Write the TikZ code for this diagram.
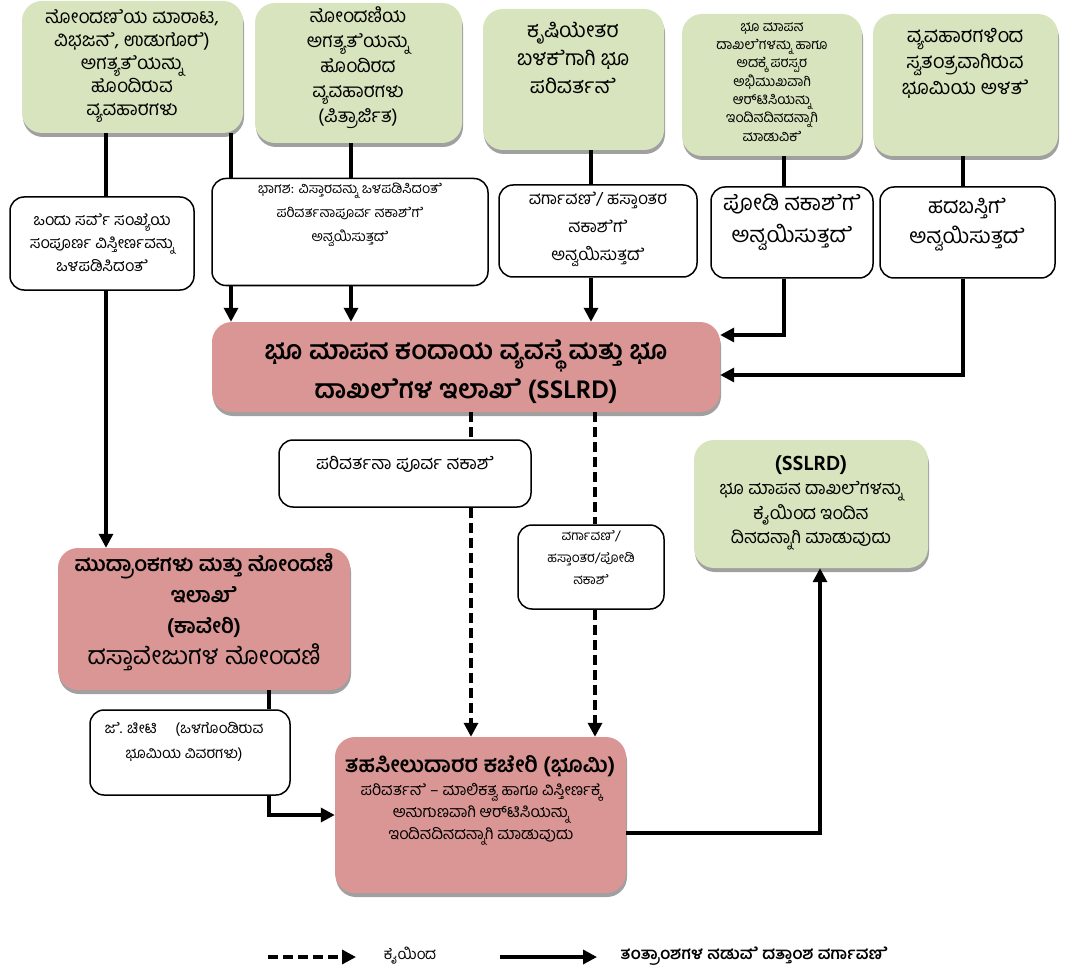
\documentclass[tikz,border=0pt]{standalone}
\usepackage{fontspec}
\setmainfont[Script=Kannada]{Hind Mysuru}
\usetikzlibrary{arrows.meta,shadows}
\definecolor{gfill}{RGB}{215,228,189}
\definecolor{rfill}{RGB}{217,150,148}
\definecolor{shad}{RGB}{160,160,160}
\begin{document}
\begin{tikzpicture}[x=1pt,y=-1pt,
  shd/.style={drop shadow={shadow xshift=1pt,shadow yshift=-4pt,fill=shad,opacity=1}},
  gbox/.style={fill=gfill,rounded corners=20pt,shd,inner sep=0pt},
  rbox/.style={fill=rfill,rounded corners=20pt,shd,inner sep=0pt},
  wbox/.style={draw=black,line width=1.5pt,fill=white,rounded corners=14pt,inner sep=0pt},
  txt/.style={align=center,inner sep=0pt},
  conn/.style={line width=3.3pt,black},
  arr/.style={conn,-{Triangle[length=14pt,width=14pt]}},
  dconn/.style={conn,dash pattern=on 10pt off 5pt},
  darr/.style={dconn,-{Triangle[length=14pt,width=14pt]}}
]
\path[use as bounding box] (0,0) rectangle (1073,976);

% coordinates for vertical / horizontal runs
\coordinate (x106) at (106,0);
\coordinate (x231) at (231,0);
\coordinate (x351) at (351,0);
\coordinate (x591) at (591,0);
\coordinate (x784) at (784,0);
\coordinate (x963) at (963,0);
\coordinate (x471) at (471,0);
\coordinate (x595) at (595,0);
\coordinate (x269) at (269,0);
\coordinate (x820) at (820,0);
\coordinate (y335) at (0,335);
\coordinate (y375) at (0,375);
\coordinate (y815) at (0,815);
\coordinate (y833) at (0,833);

% boxes
\node[gbox,minimum width=221pt,minimum height=132pt] (g1) at (132.5,67) {};
\node[gbox,minimum width=207pt,minimum height=140pt] (g2) at (358.5,73) {};
\node[gbox,minimum width=181pt,minimum height=141pt] (g3) at (573.5,79.5) {};
\node[gbox,minimum width=180pt,minimum height=142pt] (g4) at (772,85) {};
\node[gbox,minimum width=185pt,minimum height=142pt] (g5) at (965.5,85) {};

\node[wbox,minimum width=184pt,minimum height=93pt] (w1) at (102,243.5) {};
\node[wbox,minimum width=276pt,minimum height=107pt] (w2) at (350,232) {};
\node[wbox,minimum width=198pt,minimum height=92pt] (w3) at (598,231) {};
\node[wbox,minimum width=162pt,minimum height=91pt] (w4) at (792,232.5) {};
\node[wbox,minimum width=175pt,minimum height=91pt] (w5) at (967.5,232.5) {};

\node[rbox,minimum width=508pt,minimum height=90pt] (ss) at (466,367) {};

\node[wbox,minimum width=252pt,minimum height=67pt] (w6) at (405,473.5) {};
\node[wbox,minimum width=146pt,minimum height=84pt] (w7) at (591,567) {};
\node[gbox,minimum width=234pt,minimum height=128pt] (g6) at (811,504) {};
\node[rbox,minimum width=292pt,minimum height=142pt] (kv) at (204,619) {};
\node[wbox,minimum width=200pt,minimum height=85pt] (w8) at (190,752.5) {};
\node[rbox,minimum width=291pt,minimum height=156pt] (bh) at (480.5,815) {};

% texts
\node[txt,font=\fontsize{19}{23}\selectfont] (g1t) at (132,66) {ನೋಂದಣ^^^^200dೆಯ ಮಾರಾಟ,\\ವಿಭಜನ^^^^200dೆ, ಉಡುಗೊರ^^^^200dೆ)\\ಅಗತ್ಯತ^^^^200dೆಯನ್ನು\\ಹೊಂದಿರುವ\\ವ್ಯವಹಾರಗಳು};
\node[txt,font=\fontsize{19}{25}\selectfont] (g2t) at (358,68) {ನೋಂದಣಿಯ\\ಅಗತ್ಯತ^^^^200dೆಯನ್ನು\\ಹೊಂದಿರದ\\ವ್ಯವಹಾರಗಳು\\(ಪಿತ್ರಾರ್ಜಿತ)};
\node[txt,font=\fontsize{21}{28}\selectfont] (g3t) at (573,58) {ಕೃಷಿಯೇತರ\\ಬಳಕ^^^^200dೆಗಾಗಿ ಭೂ\\ಪರಿವರ್ತನ^^^^200dೆ};
\node[txt,font=\fontsize{14}{18.3}\selectfont] (g4t) at (772,82) {ಭೂ ಮಾಪನ\\ದಾಖಲ^^^^200dೆಗಳನ್ನು ಹಾಗೂ\\ಅದಕ್ಕ^^^^200dೆ ಪರಸ್ಪರ\\ಅಭಿಮುಖವಾಗಿ\\ಆರ್^^^^200cಟಿಸಿಯನ್ನು\\ಇಂದಿನದಿನದನ್ನಾಗಿ\\ಮಾಡುವಿಕ^^^^200dೆ};
\node[txt,font=\fontsize{20}{26}\selectfont] (g5t) at (965,63) {ವ್ಯವಹಾರಗಳಿಂದ\\ಸ್ವತಂತ್ರವಾಗಿರುವ\\ಭೂಮಿಯ ಅಳತ^^^^200dೆ};

\node[txt,font=\fontsize{16}{23}\selectfont] (w1t) at (102,243) {ಒಂದು ಸರ್ವ^^^^200dೆ ಸಂಖ್ಯ^^^^200dೆಯ\\ಸಂಪೂರ್ಣ ವಿಸ್ತೀರ್ಣವನ್ನು\\ಒಳಪಡಿಸಿದಂತ^^^^200dೆ};
\node[txt,font=\fontsize{14}{24}\selectfont] (w2t) at (350,215) {ಭಾಗಶ: ವಿಸ್ತಾರವನ್ನು ಒಳಪಡಿಸಿದಂತ^^^^200dೆ\\ಪರಿವರ್ತನಾಪೂರ್ವ ನಕಾಶ^^^^200dೆಗ^^^^200dೆ\\ಅನ್ವಯಿಸುತ್ತದ^^^^200dೆ};
\node[txt,font=\fontsize{17}{28}\selectfont] (w3t) at (598,229) {ವರ್ಗಾವಣ^^^^200dೆ/ ಹಸ್ತಾಂತರ\\ನಕಾಶ^^^^200dೆಗ^^^^200dೆ\\ಅನ್ವಯಿಸುತ್ತದ^^^^200dೆ};
\node[txt,font=\fontsize{22}{32}\selectfont] (w4t) at (792,222) {ಪೋಡಿ ನಕಾಶ^^^^200dೆಗ^^^^200dೆ\\ಅನ್ವಯಿಸುತ್ತದ^^^^200dೆ};
\node[txt,font=\fontsize{21}{30}\selectfont] (w5t) at (967,225) {ಹದಬಸ್ತಿಗ^^^^200dೆ\\ಅನ್ವಯಿಸುತ್ತದ^^^^200dೆ};

\node[txt,font=\fontsize{26}{39}\selectfont\bfseries] (sst) at (466,372) {ಭೂ ಮಾಪನ ಕಂದಾಯ ವ್ಯವಸ್ಥ^^^^200dೆ ಮತ್ತು ಭೂ\\ದಾಖಲ^^^^200dೆಗಳ ಇಲಾಖ^^^^200dೆ (SSLRD)};

\node[txt,font=\fontsize{18}{24}\selectfont] (w6t) at (405,464) {ಪರಿವರ್ತನಾ ಪೂರ್ವ ನಕಾಶ^^^^200dೆ};
\node[txt,font=\fontsize{13.5}{22}\selectfont] (w7t) at (591,558) {ವರ್ಗಾವಣ^^^^200dೆ/\\ಹಸ್ತಾಂತರ/ಪೋಡಿ\\ನಕಾಶ^^^^200dೆ};
\node[txt,font=\fontsize{18}{24.5}\selectfont] (g6t) at (811,503) {{\bfseries\fontsize{21}{24.5}\selectfont (SSLRD)}\\ಭೂ ಮಾಪನ ದಾಖಲ^^^^200dೆಗಳನ್ನು\\ಕೈಯಿಂದ ಇಂದಿನ\\ದಿನದನ್ನಾಗಿ ಮಾಡುವುದು};
\node[txt,font=\fontsize{21}{31}\selectfont] (kvt) at (204,612) {{\bfseries ಮುದ್ರಾಂಕಗಳು ಮತ್ತು ನೋಂದಣಿ}\\{\bfseries ಇಲಾಖ^^^^200dೆ}\\{\bfseries (ಕಾವೇರಿ)}\\{\fontsize{25}{31}\selectfont ದಸ್ತಾವೇಜುಗಳ ನೋಂದಣಿ}};
\node[txt,font=\fontsize{15}{25}\selectfont] (w8t) at (184,742) {ಜ^^^^200dೆ. ಚೀಟಿ \quad (ಒಳಗೊಂಡಿರುವ\\ಭೂಮಿಯ ವಿವರಗಳು)};
\node[txt,font=\fontsize{22}{26}\selectfont\bfseries] (bht) at (480,766) {ತಹಸೀಲುದಾರರ ಕಚೇರಿ (ಭೂಮಿ)};
\node[txt,font=\fontsize{16}{22}\selectfont] (bhb) at (481,814) {ಪರಿವರ್ತನ^^^^200dೆ – ಮಾಲಿಕತ್ವ ಹಾಗೂ ವಿಸ್ತೀರ್ಣಕ್ಕ^^^^200dೆ\\ಅನುಗುಣವಾಗಿ ಆರ್^^^^200cಟಿಸಿಯನ್ನು\\ಇಂದಿನದಿನದನ್ನಾಗಿ ಮಾಡುವುದು};

% connectors
\draw[conn] (g1.south -| x106) -- (w1.north -| x106);
\draw[arr] (w1.south -| x106) -- (kv.north -| x106);
\draw[conn] (g1.south -| x231) -- (w2.north -| x231);
\draw[arr] (w2.south -| x231) -- (ss.north -| x231);
\draw[conn] (g2.south -| x351) -- (w2.north -| x351);
\draw[arr] (w2.south -| x351) -- (ss.north -| x351);
\draw[conn] (g3.south -| x591) -- (w3.north -| x591);
\draw[arr] (w3.south -| x591) -- (ss.north -| x591);
\draw[conn] (g4.south -| x784) -- (w4.north -| x784);
\draw[arr] (w4.south -| x784) -- (x784 |- y335) -- (ss.east |- y335);
\draw[conn] (g5.south -| x963) -- (w5.north -| x963);
\draw[arr] (w5.south -| x963) -- (x963 |- y375) -- (ss.east |- y375);
\draw[dconn] (ss.south -| x471) -- (w6.north -| x471);
\draw[darr] (w6.south -| x471) -- (bh.north -| x471);
\draw[dconn] (ss.south -| x595) -- (w7.north -| x595);
\draw[darr] (w7.south -| x595) -- (bh.north -| x595);
\draw[conn] (kv.south -| x269) -- (w8.north -| x269);
\draw[arr] (w8.south -| x269) -- (x269 |- y815) -- (bh.west |- y815);
\draw[arr] (bh.east |- y833) -- (x820 |- y833) -- (g6.south -| x820);

% legend
\coordinate (l1a) at (268,957);
\coordinate (l1b) at (356,957);
\coordinate (l2a) at (500,957);
\coordinate (l2b) at (597,957);
\draw[darr] (l1a) -- (l1b);
\draw[arr] (l2a) -- (l2b);
\node[txt,font=\fontsize{15}{18}\selectfont] (lt1) at (410,956) {ಕೈಯಿಂದ};
\node[txt,font=\fontsize{16.5}{18}\selectfont\bfseries] (lt2) at (754,956) {ತಂತ್ರಾಂಶಗಳ ನಡುವ^^^^200dೆ ದತ್ತಾಂಶ ವರ್ಗಾವಣ^^^^200dೆ};
\end{tikzpicture}
\end{document}
